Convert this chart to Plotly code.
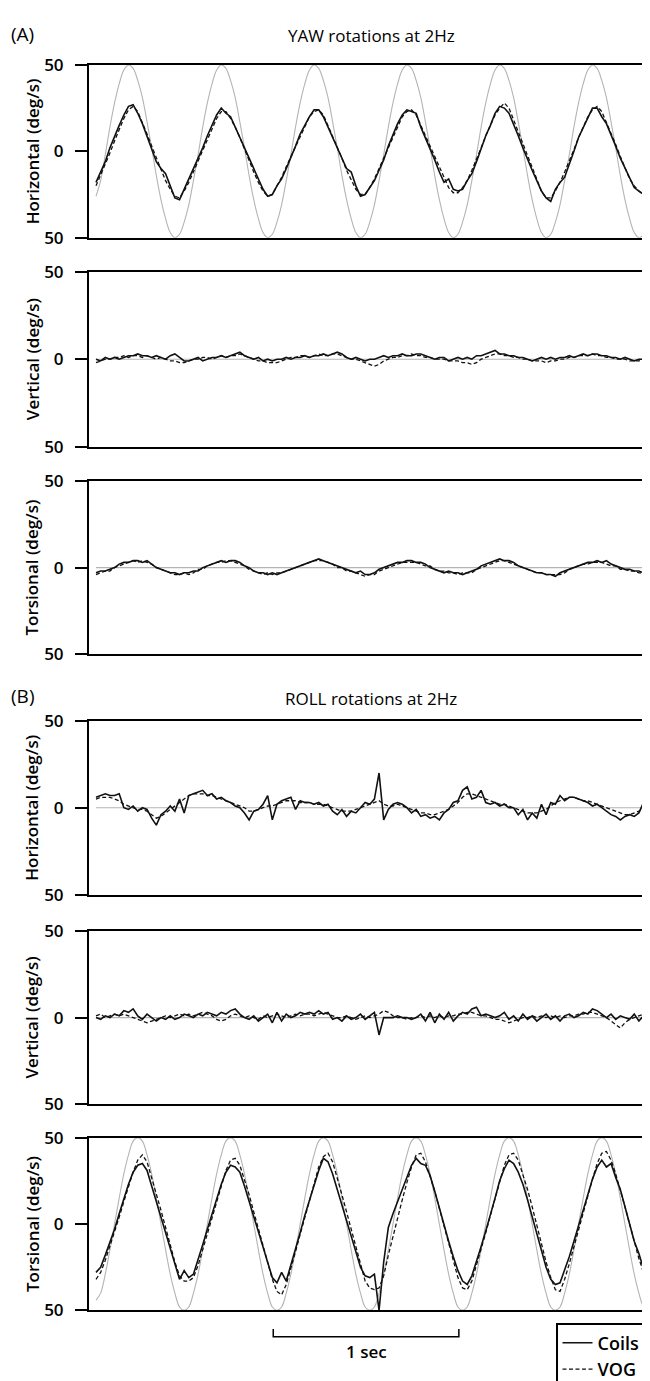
import plotly.graph_objects as go

# ---------------- data ----------------
# sample times in seconds (one reading every 0.025 s)
t = [round(0.025 * i, 3) for i in range(120)]
t_flat = [0.0, 2.975]

# stimulus (grey) traces
yaw_stim = [-26, -17, -2, 14, 28, 39, 47, 50, 48, 41, 31, 17, 2, -14, -28, -39, -47, -50, -48, -41,
            -31, -17, -2, 14, 28, 39, 47, 50, 48, 41, 31, 17, 2, -14, -28, -39, -47, -50, -48, -41,
            -31, -17, -2, 14, 28, 39, 47, 50, 48, 41, 31, 17, 2, -14, -28, -39, -47, -50, -48, -41,
            -31, -17, -2, 14, 28, 39, 47, 50, 48, 41, 31, 17, 2, -14, -28, -39, -47, -50, -48, -41,
            -31, -17, -2, 14, 28, 39, 47, 50, 48, 41, 31, 17, 2, -14, -28, -39, -47, -50, -48, -41,
            -31, -17, -2, 14, 28, 39, 47, 50, 48, 41, 31, 17, 2, -14, -28, -39, -47, -50, -48, -41]
roll_stim = [-44, -40, -29, -15, 0, 15, 29, 40, 48, 50, 48, 40, 29, 15, 0, -15, -29, -40, -48, -50,
             -48, -40, -29, -15, 0, 15, 29, 40, 48, 50, 48, 40, 29, 15, 0, -15, -29, -40, -48, -50,
             -48, -40, -29, -15, 0, 15, 29, 40, 48, 50, 48, 40, 29, 15, 0, -15, -29, -40, -48, -50,
             -48, -40, -29, -15, 0, 15, 29, 40, 48, 50, 48, 40, 29, 15, 0, -15, -29, -40, -48, -50,
             -48, -40, -29, -15, 0, 15, 29, 40, 48, 50, 48, 40, 29, 15, 0, -15, -29, -40, -48, -50,
             -48, -40, -29, -15, 0, 15, 29, 40, 48, 50, 48, 40, 29, 15, 0, -15, -29, -40, -48, -50]
no_stim = [0, 0]

# (A) YAW rotations at 2Hz
yaw_h_coil = [-18, -12, -6, 2, 9, 15, 21, 26, 27, 22, 16, 9, 2, -6, -10, -13, -20, -27, -28, -22,
              -17, -11, -5, 2, 9, 15, 21, 25, 22, 20, 14, 8, 3, -3, -10, -16, -22, -26, -25, -20,
              -16, -10, -4, 3, 10, 15, 20, 24, 24, 20, 14, 8, 2, -5, -10, -12, -20, -26, -25, -21,
              -17, -11, -5, 3, 10, 16, 21, 24, 23, 22, 14, 8, 2, -5, -12, -18, -16, -22, -23, -22,
              -17, -13, -6, 2, 9, 15, 22, 26, 25, 22, 16, 9, 2, -5, -11, -17, -23, -27, -29, -22,
              -18, -15, -8, 0, 8, 14, 20, 25, 25, 20, 16, 10, 3, -4, -10, -16, -21, -23, -25, -24]
yaw_h_vog = [-20, -14, -8, -1, 6, 13, 19, 24, 26, 23, 17, 10, 3, -4, -11, -17, -22, -26, -27, -23,
             -18, -12, -6, 0, 7, 13, 19, 23, 23, 19, 14, 8, 1, -6, -12, -18, -23, -26, -25, -20,
             -15, -9, -3, 3, 9, 15, 20, 23, 24, 21, 15, 9, 2, -4, -11, -17, -22, -25, -25, -21,
             -16, -10, -4, 2, 9, 15, 20, 23, 24, 21, 15, 9, 3, -4, -10, -16, -21, -24, -24, -21,
             -17, -11, -5, 2, 9, 15, 21, 25, 28, 25, 18, 11, 4, -3, -10, -17, -23, -27, -27, -23,
             -18, -12, -6, 1, 8, 14, 20, 24, 26, 23, 17, 11, 4, -3, -10, -16, -20, -23, -25, -25]
yaw_v_coil = [0, -1, 1, 0, 1, 0, 1, 2, 2, 3, 2, 2, 1, 2, 1, 0, 2, 3, 1, -1,
              -1, 0, 1, -1, 0, 1, 1, 2, 1, 2, 3, 4, 2, 1, 0, 1, -1, 0, -1, 0,
              0, 1, 0, 1, 1, 2, 1, 2, 2, 3, 2, 3, 4, 3, 1, 0, 1, 0, -1, 0,
              0, 1, 2, 1, 2, 2, 3, 2, 2, 3, 3, 2, 1, 0, 1, 1, -1, 0, 1, 0,
              1, 0, 2, 2, 3, 4, 5, 3, 3, 2, 2, 1, 1, 0, -1, 0, 1, 0, 1, 0,
              1, 1, 2, 1, 2, 3, 2, 3, 3, 2, 2, 1, 1, 0, 1, 0, -1, 0, 0, 0]
yaw_v_vog = [-2, -1, 0, 0, 1, 1, 2, 1, 2, 2, 1, 2, 1, 0, 1, 0, -1, -1, -2, -2,
             -1, 0, 0, 1, 1, 0, 1, 2, 1, 2, 2, 3, 2, 1, 0, -1, -1, -2, -2, -2,
             -1, 0, 1, 1, 2, 2, 1, 2, 3, 2, 2, 3, 3, 2, 1, 0, 0, -1, -2, -3,
             -4, -3, -1, 0, 1, 1, 2, 2, 3, 2, 2, 1, 1, 0, 0, 0, -1, -1, -1, -2,
             -2, -3, -2, 0, 1, 2, 3, 3, 2, 2, 1, 1, 0, 0, -1, -1, -1, -2, -1, -1,
             0, 0, 1, 1, 2, 2, 2, 3, 2, 2, 1, 1, 0, 0, 0, -1, -1, -1, 0, 0]
yaw_t_coil = [-3, -2, -2, -1, 0, 2, 3, 3, 4, 4, 3, 4, 2, 0, -1, -2, -3, -3, -4, -3,
              -3, -2, -2, 0, 1, 2, 3, 4, 3, 4, 4, 3, 1, 0, -2, -3, -3, -4, -3, -4,
              -3, -2, -1, 0, 1, 2, 3, 4, 5, 4, 3, 2, 1, 0, -1, -2, -3, -2, -4, -4,
              -3, -1, 0, 1, 2, 3, 3, 4, 4, 3, 3, 2, 0, -1, -2, -3, -2, -3, -3, -4,
              -3, -2, -1, 1, 2, 3, 4, 5, 4, 4, 3, 1, 0, -1, -2, -3, -3, -4, -4, -5,
              -3, -2, -1, 0, 1, 2, 3, 3, 4, 3, 4, 2, 1, 0, -1, -1, -2, -2, -3, -4]
yaw_t_vog = [-4, -3, -2, -2, 0, 1, 2, 3, 4, 3, 4, 3, 2, 0, -1, -2, -3, -4, -4, -3,
             -4, -3, -1, -1, 1, 2, 3, 3, 4, 4, 3, 2, 1, -1, -2, -3, -4, -3, -4, -3,
             -3, -2, -1, 0, 1, 2, 3, 4, 4, 4, 3, 2, 0, 0, -2, -2, -3, -4, -5, -4,
             -4, -2, -1, 0, 1, 2, 3, 3, 3, 3, 2, 1, 1, -1, -2, -2, -3, -3, -4, -3,
             -3, -3, -1, 0, 1, 2, 3, 4, 4, 3, 2, 1, 0, -1, -2, -3, -3, -4, -4, -4,
             -4, -3, -1, 0, 1, 2, 2, 3, 3, 3, 2, 1, 1, -1, -1, -2, -2, -3, -3, -4]

# (B) ROLL rotations at 2Hz
roll_h_coil = [6, 7, 8, 7, 7, 8, 0, -1, 1, -2, 0, -1, -6, -10, -4, -2, 1, -2, 5, -3,
               7, 8, 9, 10, 7, 8, 5, 6, 4, 3, 1, 0, -3, -7, -2, -1, 2, 7, -7, 2,
               4, 5, 6, -1, 4, 3, 3, 2, 3, 1, 2, -2, -4, -1, -5, -2, -3, 0, 3, 2,
               5, 20, -7, -1, 2, 3, 2, 0, -3, -1, -5, -4, -6, -5, -7, -3, -1, 3, 4, 10,
               12, 5, 6, 10, 3, 2, 3, 1, 2, 0, 0, -4, -1, -7, -3, -6, 2, -4, 3, 2,
               7, 4, 6, 6, 5, 4, 3, 1, 2, 0, -2, -4, -5, -7, -5, -4, -5, -3, 3, 1]
roll_h_vog = [5, 6, 6, 6, 5, 4, 2, 1, 0, -1, -1, -2, -4, -6, -5, -3, -1, 1, 3, 5,
              7, 8, 8, 8, 7, 7, 6, 5, 4, 3, 2, 1, 0, -2, -2, -1, 0, 1, 1, 2,
              3, 4, 4, 4, 3, 3, 3, 2, 2, 2, 1, 0, -1, -2, -2, -2, -1, 0, 1, 2,
              3, 4, 2, 1, 1, 2, 1, 0, -1, -2, -3, -3, -4, -4, -3, -2, -1, 1, 3, 6,
              8, 8, 7, 6, 5, 4, 3, 2, 2, 1, 0, -1, -2, -3, -3, -3, -2, -1, 1, 3,
              4, 5, 6, 6, 5, 4, 4, 3, 2, 1, 0, -1, -2, -3, -4, -4, -3, -2, 0, 1]
roll_v_coil = [0, -1, 1, 0, 2, 1, 4, 3, 5, 1, -1, 2, 0, -2, 0, -1, 1, -1, 0, 2,
               1, 0, 2, 1, 3, 2, 1, 3, 2, 4, 5, 2, 0, -1, 1, -2, 0, 2, -3, 3,
               -2, 2, 0, 1, 3, 2, 3, 2, 4, 2, 3, -1, 0, -2, 1, -1, 0, 2, -1, 1,
               3, -10, 0, 0, 0, 1, 0, 0, -1, 0, 2, -2, 3, -3, 2, -1, 3, -2, 1, 3,
               2, 5, 6, 1, 2, 1, 0, 1, 3, -1, 1, -2, 2, -1, 1, -2, 0, 2, -1, 1,
               -2, 1, 2, 0, 1, 3, 2, 5, 4, 2, 0, 2, -1, 1, 0, -1, 2, -2, 1, 0]
roll_v_vog = [1, 2, 0, 1, 2, 1, 2, 1, 0, -1, -2, -3, -2, -1, 0, 1, 0, 1, 2, 1,
              2, 1, 2, 3, 2, 1, -1, -2, -1, 1, 2, 1, 0, 1, 0, -1, 1, 0, 1, 2,
              1, 0, 1, 2, 1, 2, 2, 1, 2, 3, 2, 1, 0, 0, 1, 0, -1, 0, 1, 0,
              1, 2, 4, 3, 1, 0, 0, -1, 0, 0, 1, 0, 1, 0, 1, 0, 1, 1, 2, 2,
              3, 3, 2, 1, 1, 0, -1, -1, -2, -3, -2, -1, 0, 0, 1, 0, 1, 0, 1, 0,
              1, 0, 1, 1, 2, 2, 3, 3, 2, 1, 0, -2, -4, -6, -3, -1, 0, 1, 2, 1]
roll_t_coil = [-28, -25, -18, -11, -3, 6, 15, 23, 30, 34, 35, 31, 22, 13, 4, -6, -15, -24, -32, -27,
               -31, -29, -21, -12, -3, 6, 15, 23, 30, 34, 33, 30, 22, 13, 4, -5, -14, -23, -31, -34,
               -28, -33, -24, -14, -5, 5, 14, 23, 31, 38, 36, 29, 20, 11, 2, -8, -17, -25, -30, -31,
               -29, -50, -22, -2, 6, 13, 20, 27, 34, 38, 35, 34, 28, 19, 9, 0, -10, -19, -27, -33,
               -35, -30, -22, -13, -4, 5, 15, 25, 32, 37, 35, 30, 23, 14, 4, -6, -16, -25, -32, -35,
               -34, -27, -19, -10, -1, 8, 17, 26, 33, 37, 33, 35, 27, 20, 10, 0, -10, -17, -26, -31]
roll_t_vog = [-32, -28, -21, -13, -5, 4, 13, 22, 30, 37, 40, 36, 27, 18, 8, -2, -12, -22, -30, -33,
              -33, -31, -24, -15, -6, 4, 13, 22, 31, 37, 38, 34, 26, 17, 7, -3, -13, -23, -32, -39,
              -41, -35, -26, -16, -6, 4, 14, 24, 33, 39, 41, 36, 27, 17, 7, -3, -14, -24, -33, -37,
              -38, -37, -30, -18, -7, 4, 14, 24, 33, 40, 41, 36, 28, 19, 9, -1, -12, -22, -31, -37,
              -38, -33, -24, -15, -5, 5, 15, 25, 34, 40, 41, 37, 29, 20, 10, -1, -12, -22, -31, -38,
              -39, -32, -23, -13, -3, 7, 17, 26, 35, 41, 42, 37, 29, 20, 10, 0, -10, -20, -28, -33]

y_ticks = [-50, 0, 50]
y_tick_text = ["50", "0", "50"]
panel_titles = ["Horizontal (deg/s)", "Vertical (deg/s)", "Torsional (deg/s)",
                "Horizontal (deg/s)", "Vertical (deg/s)", "Torsional (deg/s)"]

panels = [
    (yaw_stim, t, yaw_h_coil, yaw_h_vog),
    (no_stim, t_flat, yaw_v_coil, yaw_v_vog),
    (no_stim, t_flat, yaw_t_coil, yaw_t_vog),
    (no_stim, t_flat, roll_h_coil, roll_h_vog),
    (no_stim, t_flat, roll_v_coil, roll_v_vog),
    (roll_stim, t, roll_t_coil, roll_t_vog),
]

# ---------------- layout geometry (pixels) ----------------
W, H = 650, 1381
X_LEFT, X_RIGHT = 81, 645
PANEL_PX = [(46, 223), (258, 437), (472, 650), (718, 896), (933, 1111), (1145, 1322)]
FONT = "Open Sans"


def py(px):
    return 1 - px / H


def pxx(px):
    return px / W


fig = go.Figure()
layout = dict(
    width=W, height=H, margin=dict(l=0, r=0, t=0, b=0),
    paper_bgcolor="white", plot_bgcolor="white",
    font=dict(family=FONT, color="black"),
    showlegend=True,
)
annotations = []
shapes = []

for k, (stim, ts, coil, vog) in enumerate(panels):
    n = k + 1
    xa = "x" if n == 1 else f"x{n}"
    ya = "y" if n == 1 else f"y{n}"
    fig.add_trace(go.Scatter(x=ts[:len(stim)], y=stim, xaxis=xa, yaxis=ya, mode="lines",
                             line=dict(color="#b4b4b4", width=1.1, shape="spline"),
                             showlegend=False, hoverinfo="skip"))
    fig.add_trace(go.Scatter(x=t[:len(vog)], y=vog, xaxis=xa, yaxis=ya, mode="lines",
                             line=dict(color="#111111", width=1.3, dash="4px,2.5px"),
                             name="VOG", legendrank=2, showlegend=(n == 6)))
    fig.add_trace(go.Scatter(x=t[:len(coil)], y=coil, xaxis=xa, yaxis=ya, mode="lines",
                             line=dict(color="#111111", width=1.6),
                             name="Coils", legendrank=1, showlegend=(n == 6)))
    top, bot = PANEL_PX[k]
    xkey = "xaxis" if n == 1 else f"xaxis{n}"
    ykey = "yaxis" if n == 1 else f"yaxis{n}"
    layout[xkey] = dict(domain=[pxx(X_LEFT), pxx(X_RIGHT)], range=[-0.0377, 3.001],
                        anchor=ya, showline=True, mirror=True, linewidth=2, linecolor="black",
                        showticklabels=False, ticks="", showgrid=False, zeroline=False,
                        fixedrange=True)
    layout[ykey] = dict(domain=[py(bot), py(top)], range=[-50, 50], anchor=xa,
                        tickvals=y_ticks, ticktext=y_tick_text, ticks="outside", ticklen=12,
                        tickwidth=1.6, tickcolor="black", showline=True, mirror=True,
                        linewidth=2, linecolor="black", showgrid=False, zeroline=False,
                        tickfont=dict(family=FONT, size=17, weight=600, color="black"),
                        ticklabelstandoff=8, fixedrange=True)
    annotations.append(dict(text=panel_titles[k], xref="paper", yref="paper",
                            x=pxx(24), y=py((top + bot) / 2), textangle=-90, showarrow=False,
                            xanchor="center", yanchor="middle",
                            font=dict(family=FONT, size=17, weight=600, color="black")))

# titles and panel letters
annotations += [
    dict(text="(A)", xref="paper", yref="paper", x=pxx(1), y=py(14), xanchor="left",
         yanchor="middle", showarrow=False, font=dict(family=FONT, size=19, color="black")),
    dict(text="YAW rotations at 2Hz", xref="paper", yref="paper", x=pxx(363), y=py(16),
         xanchor="center", yanchor="middle", showarrow=False,
         font=dict(family=FONT, size=17, weight=500, color="black")),
    dict(text="(B)", xref="paper", yref="paper", x=pxx(1), y=py(693), xanchor="left",
         yanchor="middle", showarrow=False, font=dict(family=FONT, size=19, color="black")),
    dict(text="ROLL rotations at 2Hz", xref="paper", yref="paper", x=pxx(363), y=py(695),
         xanchor="center", yanchor="middle", showarrow=False,
         font=dict(family=FONT, size=17, weight=500, color="black")),
]

# 1 second scale bar under the last panel
bar_start, bar_len = 0.955, 1.0
shapes.append(dict(type="path", xref="x6", yref="paper",
                   path=f"M {bar_start},{py(1341)} L {bar_start},{py(1349)} "
                        f"L {bar_start + bar_len},{py(1349)} L {bar_start + bar_len},{py(1341)}",
                   line=dict(color="black", width=1.5)))
annotations.append(dict(text="1 sec", xref="x6", yref="paper", x=bar_start + bar_len / 2,
                        y=py(1364), xanchor="center", yanchor="middle", showarrow=False,
                        font=dict(family=FONT, size=17, weight=600, color="black")))

layout["annotations"] = annotations
layout["shapes"] = shapes
layout["legend"] = dict(x=pxx(548), y=py(1335), xanchor="left", yanchor="top",
                        bordercolor="black", borderwidth=1.5, bgcolor="white",
                        font=dict(family=FONT, size=18, weight=600, color="black"),
                        tracegroupgap=0, itemwidth=30, traceorder="normal")
fig.update_layout(**layout)
fig.write_html("out.html")
